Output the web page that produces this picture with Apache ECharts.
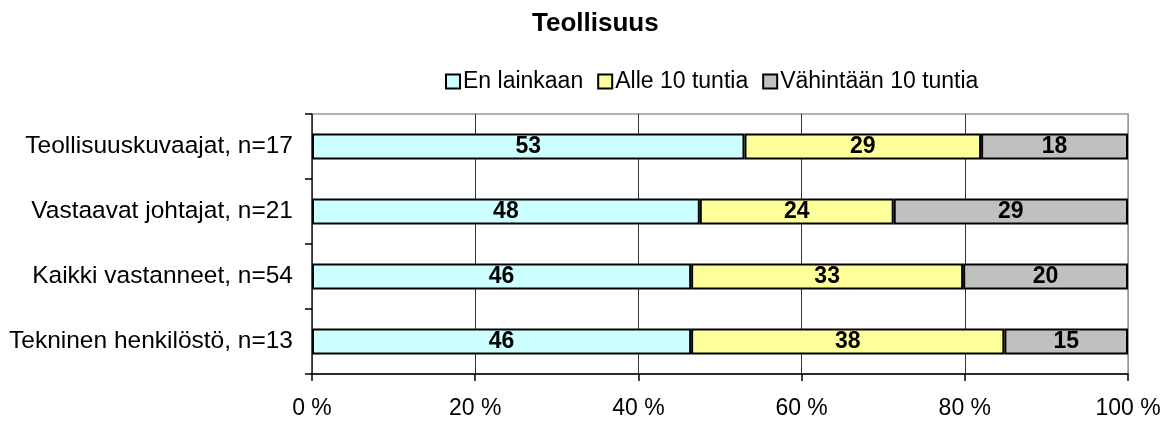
<!DOCTYPE html>
<html>
<head>
<meta charset="utf-8">
<script src="https://cdn.jsdelivr.net/npm/echarts@6/dist/echarts.min.js"></script>
<style>
  html, body { margin: 0; padding: 0; background: #fff; }
  #chart { width: 1167px; height: 421px; }
</style>
</head>
<body>
<div id="chart"></div>
<script>
// Respondent groups (top to bottom)
const categories = [
  'Teollisuuskuvaajat, n=17',
  'Vastaavat johtajat, n=21',
  'Kaikki vastanneet, n=54',
  'Tekninen henkilöstö, n=13'
];
const seriesNames = ['En lainkaan', 'Alle 10 tuntia', 'Vähintään 10 tuntia'];
const enLainkaan = [53, 48, 46, 46];
const alle10 = [29, 24, 33, 38];
const vahintaan10 = [18, 29, 20, 15];
const tickLabels = ['0 %', '20 %', '40 %', '60 %', '80 %', '100 %'];
const colors = ['#CCFFFF', '#FFFF99', '#C0C0C0'];

const rows = [enLainkaan, alle10, vahintaan10];
// Each bar is stacked to 100 % of its row total
const totals = categories.map((_, i) => rows.reduce((s, r) => s + r[i], 0));

const font = 'Arial, "Liberation Sans", sans-serif';

const series = rows.map((vals, k) => ({
  name: seriesNames[k],
  type: 'bar',
  stack: 'all',
  barCategoryGap: '60%',
  data: vals.map((v, i) => ({ value: v / totals[i] * 100, raw: v })),
  itemStyle: { color: colors[k], borderColor: '#000', borderWidth: 2 },
  label: {
    show: true,
    position: 'inside',
    color: '#000',
    fontFamily: font,
    fontWeight: 'bold',
    fontSize: 23,
    formatter: p => String(p.data.raw)
  }
}));

const chart = echarts.init(document.getElementById('chart'));
chart.setOption({
  animation: false,
  title: {
    text: 'Teollisuus',
    left: 527,
    top: 6,
    textStyle: { fontFamily: font, fontWeight: 'bold', fontSize: 26, color: '#000' }
  },
  legend: {
    left: 440,
    top: 65,
    icon: 'rect',
    itemWidth: 14,
    itemHeight: 14,
    itemGap: 14,
    textStyle: { fontFamily: font, fontSize: 23, color: '#000', padding: [0, 0, 0, -2] },
    data: seriesNames
  },
  grid: {
    left: 312, right: 39, top: 114, bottom: 47, containLabel: false,
    show: true, borderColor: '#999', borderWidth: 1.5
  },
  xAxis: {
    type: 'value',
    min: 0,
    max: 100,
    interval: 20,
    axisLine: { show: true, lineStyle: { color: '#000', width: 1.5 } },
    axisTick: { show: true, length: 7, lineStyle: { color: '#000', width: 1.5 } },
    axisLabel: {
      fontFamily: font, fontSize: 23, color: '#000', margin: 23,
      formatter: v => tickLabels[Math.round(v / 20)]
    },
    splitLine: {
      show: true,
      lineStyle: { color: ['#333', '#333', '#333', '#333', '#333', '#999'], width: 1 }
    }
  },
  yAxis: {
    type: 'category',
    inverse: true,
    data: categories,
    axisLine: { show: true, lineStyle: { color: '#333', width: 1.5 } },
    axisTick: { show: true, length: 7, lineStyle: { color: '#000', width: 1.5 } },
    axisLabel: { fontFamily: font, fontSize: 24.5, color: '#000', margin: 19 }
  },
  series: series
});
</script>
</body>
</html>
